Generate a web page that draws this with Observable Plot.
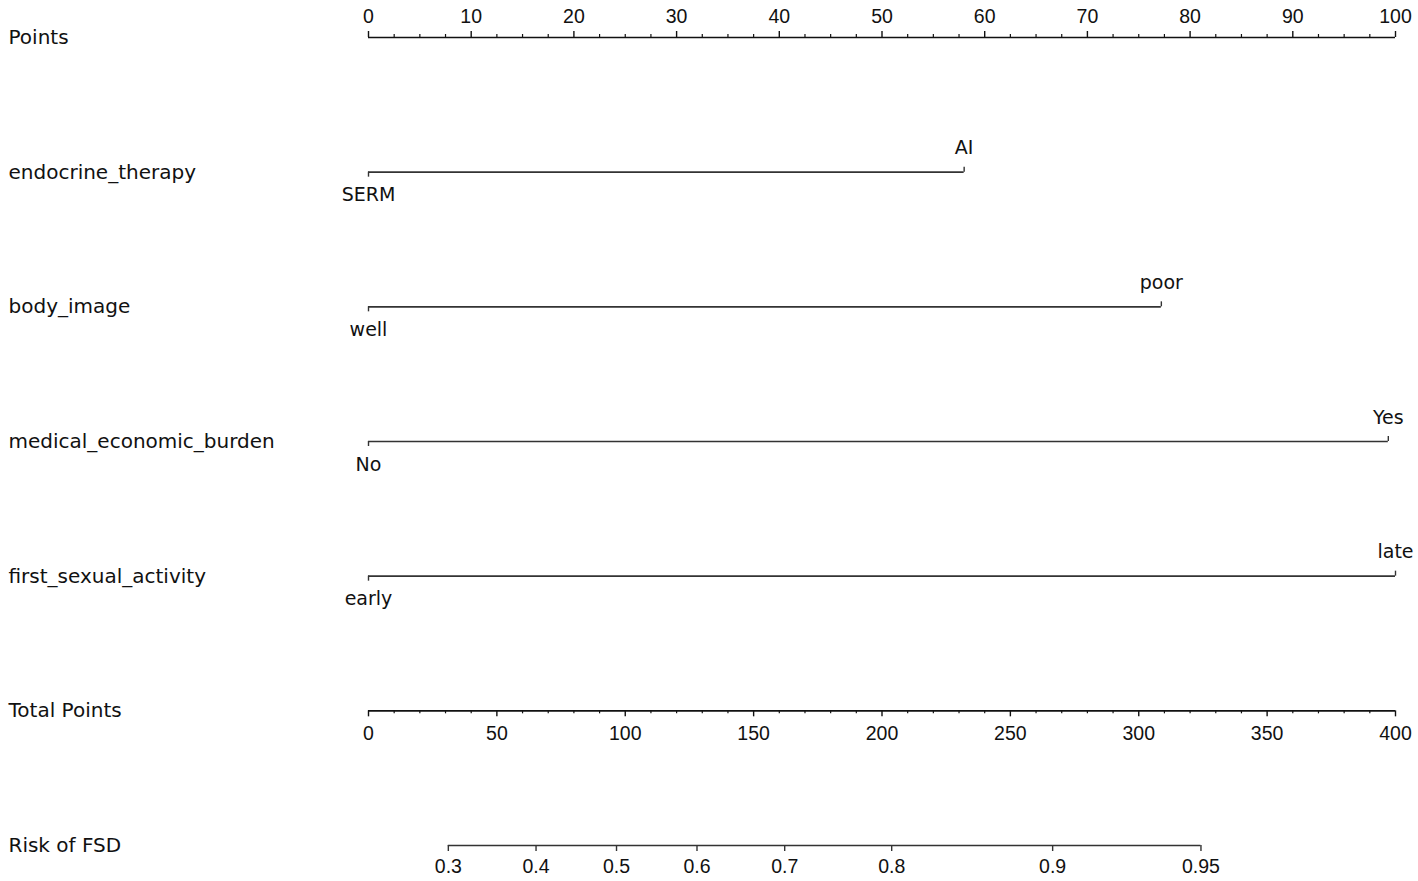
<!DOCTYPE html>
<html><head><meta charset="utf-8">
<script src="https://cdn.jsdelivr.net/npm/d3@7"></script>
<script src="https://cdn.jsdelivr.net/npm/@observablehq/plot@0.6"></script>
<style>body{margin:0;background:#fff}</style>
</head><body><div id="chart"></div>
<script>
// Row labels (top to bottom)
const rowLabels = ["Points","endocrine_therapy","body_image","medical_economic_burden","first_sexual_activity","Total Points","Risk of FSD"];
// Predictor variables and their levels / points
const variables = ["endocrine_therapy","body_image","medical_economic_burden","first_sexual_activity"];
const lowLevels = ["SERM","well","No","early"];
const lowPoints = [0,0,0,0];
const highLevels = ["AI","poor","Yes","late"];
const highPoints = [58,77.2,99.3,100];
// Axis ticks
const pointsTicks = [0,10,20,30,40,50,60,70,80,90,100];
const pointsMinorStep = 2.5;
const totalTicks = [0,50,100,150,200,250,300,350,400];
const totalMinorStep = 10;
const totalMax = 400;
const riskTicks = [0.3,0.4,0.5,0.6,0.7,0.8,0.9,0.95];
// linear predictor = riskIntercept + riskSlope * totalPoints
const riskIntercept = -1.2495;
const riskSlope = 0.012935;

const row = name => rowLabels.indexOf(name);
const pointsMinor = d3.range(0, 100 + 1e-9, pointsMinorStep).filter(v => !pointsTicks.includes(v));
const totalMinor = d3.range(0, totalMax + 1e-9, totalMinorStep).filter(v => !totalTicks.includes(v));
const toPts = t => t * 100 / totalMax;
const riskX = p => toPts((Math.log(p / (1 - p)) - riskIntercept) / riskSlope);

const segments = variables.map((v, i) => ({r: row(v), x1: lowPoints[i], x2: highPoints[i]}));
const below = variables.map((v, i) => ({r: row(v), x: lowPoints[i], label: lowLevels[i]}));
const above = variables.map((v, i) => ({r: row(v), x: highPoints[i], label: highLevels[i]}));

const ink = "#111";
const lineCol = "#333";
const numFont = "Liberation Sans";
const txtFont = "DejaVu Sans";

const tick = (data, xf, r, up, len, col, w) => Plot.ruleX(data, {
  x: xf, y1: () => r, y2: () => r,
  insetTop: up ? -len : 0, insetBottom: up ? 0 : -len,
  stroke: col, strokeWidth: w
});

const rP = row("Points"), rT = row("Total Points"), rR = row("Risk of FSD");

const chart = Plot.plot({
  width: 1418, height: 881,
  marginLeft: 8, marginRight: 8, marginTop: 0, marginBottom: 0,
  x: {domain: [0, 100], range: [368, 1395], axis: null},
  y: {domain: [0, rowLabels.length - 1], range: [37, 845], axis: null},
  style: {background: "#fff"},
  marks: [
    // row labels
    Plot.text(rowLabels, {y: (d, i) => i, text: d => d, frameAnchor: "left", textAnchor: "start",
      fontFamily: txtFont, fontSize: 20, fill: ink}),
    // Points axis
    Plot.ruleY([rP], {y: d => d, x1: 0, x2: 100, stroke: ink, strokeWidth: 1.7}),
    tick(pointsTicks, d => d, rP, true, 6, ink, 1.4),
    tick(pointsMinor, d => d, rP, true, 3, ink, 1.2),
    Plot.text(pointsTicks, {x: d => d, y: () => rP, dy: -21, text: d => String(d),
      fontFamily: numFont, fontSize: 19.5, fill: ink}),
    // variable rows
    Plot.ruleY(segments, {y: "r", x1: "x1", x2: "x2", stroke: lineCol, strokeWidth: 1.7}),
    Plot.ruleX(below, {x: "x", y1: "r", y2: "r", insetTop: 0, insetBottom: -5, stroke: lineCol, strokeWidth: 1.4}),
    Plot.ruleX(above, {x: "x", y1: "r", y2: "r", insetTop: -5, insetBottom: 0, stroke: lineCol, strokeWidth: 1.4}),
    Plot.text(below, {x: "x", y: "r", dy: 23, text: "label", fontFamily: txtFont, fontSize: 19, fill: ink}),
    Plot.text(above, {x: "x", y: "r", dy: -24, text: "label", fontFamily: txtFont, fontSize: 19, fill: ink}),
    // Total Points axis
    Plot.ruleY([rT], {y: d => d, x1: 0, x2: toPts(totalMax), stroke: ink, strokeWidth: 1.7}),
    tick(totalTicks, d => toPts(d), rT, false, 6, ink, 1.4),
    tick(totalMinor, d => toPts(d), rT, false, 3, ink, 1.2),
    Plot.text(totalTicks, {x: d => toPts(d), y: () => rT, dy: 23, text: d => String(d),
      fontFamily: numFont, fontSize: 19.5, fill: ink}),
    // Risk axis
    Plot.ruleY([rR], {y: d => d, x1: riskX(riskTicks[0]), x2: riskX(riskTicks[riskTicks.length - 1]), stroke: lineCol, strokeWidth: 1.7}),
    tick(riskTicks, d => riskX(d), rR, false, 6, lineCol, 1.4),
    Plot.text(riskTicks, {x: d => riskX(d), y: () => rR, dy: 21, text: d => String(d),
      fontFamily: numFont, fontSize: 19.5, fill: ink})
  ]
});
document.getElementById("chart").appendChild(chart);
</script>
</body></html>
